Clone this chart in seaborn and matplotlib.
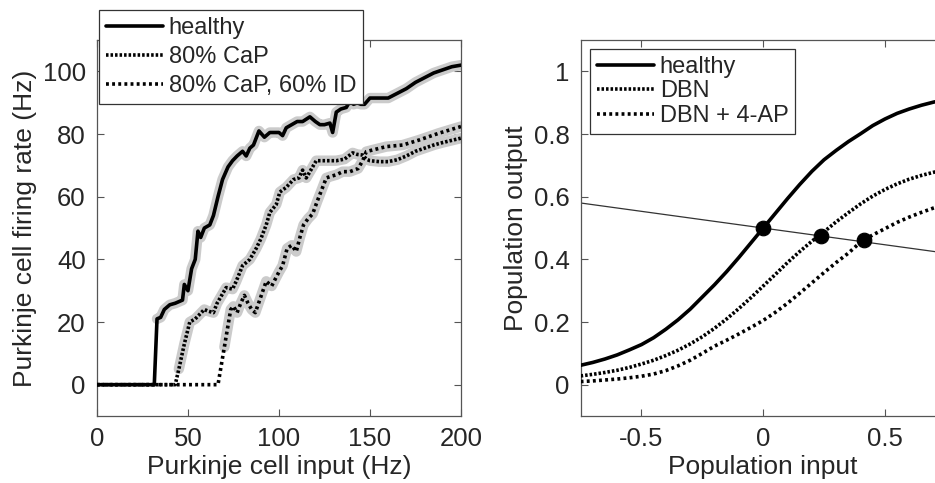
import numpy as np
import pandas as pd
import matplotlib
matplotlib.use("Agg")
import matplotlib.pyplot as plt
from matplotlib.lines import Line2D
import seaborn as sns

# ---------------- data: left panel (Purkinje cell) ----------------
healthy_x = [0, 31.5, 33, 35, 37, 40, 43, 45, 47, 48, 50, 52, 54, 55.5, 57, 59, 62, 64, 66.5, 69,
             72, 74.5, 77, 80, 82, 84, 86, 89, 92, 95, 97, 100, 102, 104, 107, 110, 113, 117, 120, 122.5,
             125, 128, 129.5, 131.5, 134, 137, 139, 141, 143, 145, 147, 150, 155, 160, 165, 170, 175, 180,
             185, 190, 195, 200]
healthy_y = [0, 0, 21, 21.5, 24, 25.5, 26, 26.5, 27, 32, 30, 37, 40, 49, 47, 50, 51, 54, 60, 65.5,
             69.5, 71.5, 73, 74.5, 73, 75.5, 76.5, 81, 79, 80.5, 80.5, 80.5, 79.5, 82, 83, 84, 84, 85.5, 84, 83,
             83, 83.5, 80.5, 87, 88, 88.5, 90.5, 89.5, 90, 89.5, 89.5, 91.5, 91.5, 91.5, 93, 94.5, 96.5, 98,
             99.5, 100.5, 101.5, 102]

cap_x = [0, 43, 45, 48, 51, 54, 56.5, 59, 61, 64, 66, 68.5, 71, 74.5, 76.5, 80, 84, 87.5, 90, 93,
         95, 98.5, 100.5, 104, 108, 111, 113, 115, 118, 120.5, 124, 128, 131.5, 136, 140.5, 143, 146, 148,
         150, 155, 160, 165, 170, 175, 180, 185, 190, 195, 200]
cap_y = [0, 0, 5, 13, 20, 21, 22.5, 24, 23.5, 23, 26, 28.5, 31, 30.5, 33, 38, 40, 43.5, 46.5, 51,
         55, 57.5, 61.5, 63, 65.5, 66, 68.5, 66, 69, 71.5, 71.5, 71.5, 71.5, 72, 74, 73.5, 73.3, 72,
         71.5, 71.2, 71.2, 71.8, 73, 74.5, 75.5, 76.5, 77.3, 78, 78.7]

id_x = [0, 66.5, 70, 73.5, 75, 77, 79, 81, 83, 85, 87, 90, 93, 96, 100, 102, 104.5, 107, 109.5, 111.5,
        113.5, 116, 118.5, 121, 124, 126, 128.5, 131.5, 135, 139, 143.5, 146, 148, 152, 159, 168, 177,
        188, 200]
id_y = [0, 0, 12, 24, 25, 23, 26, 28.5, 26, 24, 23, 28, 33, 31.5, 36, 38, 43.5, 44.5, 42.5, 47,
        51, 53, 54.5, 58.5, 63, 66, 66.5, 67, 68, 68, 69, 71.5, 74.4, 75, 76, 76.5, 78.1,
        80.3, 82.4]

left_labels = ["healthy", "80% CaP", "80% CaP, 60% ID"]
left_xticks = [0, 50, 100, 150, 200]
left_yticks = [0, 20, 40, 60, 80, 100]

# ---------------- data: right panel (population) ----------------
pop_x = [-0.75, -0.70, -0.65, -0.60, -0.55, -0.50, -0.45, -0.40, -0.35, -0.30, -0.25, -0.20, -0.15,
         -0.10, -0.05, 0.00, 0.05, 0.10, 0.15, 0.20, 0.25, 0.30, 0.35, 0.40, 0.45, 0.50, 0.55, 0.60,
         0.65, 0.70, 0.75]
pop_healthy = [0.062, 0.071, 0.082, 0.095, 0.111, 0.128, 0.150, 0.177, 0.207, 0.241, 0.280, 0.319, 0.361,
               0.406, 0.453, 0.500, 0.547, 0.594, 0.639, 0.681, 0.718, 0.748, 0.776, 0.801, 0.827, 0.848,
               0.866, 0.880, 0.892, 0.902, 0.910]
pop_dbn = [0.028, 0.033, 0.039, 0.046, 0.055, 0.066, 0.078, 0.093, 0.110, 0.130, 0.153, 0.180, 0.210,
           0.243, 0.278, 0.315, 0.352, 0.390, 0.425, 0.458, 0.488, 0.520, 0.549, 0.577, 0.602, 0.623,
           0.641, 0.656, 0.668, 0.678, 0.686]
pop_dbn_4ap = [0.010, 0.012, 0.015, 0.018, 0.022, 0.027, 0.034, 0.045, 0.060, 0.078, 0.100, 0.123, 0.142,
               0.162, 0.183, 0.205, 0.231, 0.260, 0.292, 0.325, 0.358, 0.390, 0.420, 0.455, 0.478, 0.498,
               0.518, 0.535, 0.550, 0.564, 0.576]
line_x = [-0.75, 0.75]
line_y = [0.58, 0.42]
fixed_x = [0.0, 0.236, 0.415]
fixed_y = [0.500, 0.476, 0.463]

right_labels = ["healthy", "DBN", "DBN + 4-AP"]
right_xticks = [-0.5, 0, 0.5]
right_xticklabels = ["-0.5", "0", "0.5"]
right_yticks = [0, 0.2, 0.4, 0.6, 0.8, 1.0]
right_yticklabels = ["0", "0.2", "0.4", "0.6", "0.8", "1"]

# ---------------- style ----------------
sns.set_style("white")
plt.rcParams["font.family"] = ["Liberation Sans", "DejaVu Sans"]
FS_TICK = 18.5
FS_LABEL = 19
FS_LEG = 17
FRAME = "#555555"

fine_dot = (0, (0.7, 0.55))
coarse_dot = (0, (0.8, 0.9))
LW = 2.6

fig = plt.figure(figsize=(9.35, 4.83), dpi=100)
ax1 = fig.add_axes([0.1037, 0.1387, 0.3893, 0.7783])
ax2 = fig.add_axes([0.621, 0.1387, 0.3905, 0.7783])


def band(ax, xs, ys):
    xs = np.asarray(xs, float)
    ys = np.asarray(ys, float)
    start = int(np.argmax(ys > 0)) - 1
    df = pd.DataFrame({"x": xs[start + 1:], "y": ys[start + 1:]})
    sns.lineplot(data=df, x="x", y="y", ax=ax, color="#cbcbcb", lw=7.5, sort=False,
                 estimator=None, solid_capstyle="round", zorder=1)


for xs, ys in [(healthy_x, healthy_y), (cap_x, cap_y), (id_x, id_y)]:
    band(ax1, xs, ys)

sns.lineplot(x=cap_x, y=cap_y, ax=ax1, color="black", lw=LW, linestyle=fine_dot,
             sort=False, estimator=None, zorder=3)
sns.lineplot(x=id_x, y=id_y, ax=ax1, color="black", lw=LW, linestyle=coarse_dot,
             sort=False, estimator=None, zorder=3)
sns.lineplot(x=healthy_x, y=healthy_y, ax=ax1, color="black", lw=LW, sort=False,
             estimator=None, zorder=4)

ax1.set_xlim(0, 200)
ax1.set_ylim(-10, 110)
ax1.set_xticks(left_xticks)
ax1.set_yticks(left_yticks)
ax1.set_xlabel("Purkinje cell input (Hz)", fontsize=FS_LABEL, labelpad=3)
ax1.set_ylabel("Purkinje cell firing rate (Hz)", fontsize=FS_LABEL, labelpad=4)

# right panel
sns.lineplot(x=line_x, y=line_y, ax=ax2, color="#333333", lw=0.9, zorder=2)
sns.lineplot(x=pop_x, y=pop_dbn_4ap, ax=ax2, color="black", lw=LW, linestyle=coarse_dot, zorder=3)
sns.lineplot(x=pop_x, y=pop_dbn, ax=ax2, color="black", lw=LW, linestyle=fine_dot, zorder=3)
sns.lineplot(x=pop_x, y=pop_healthy, ax=ax2, color="black", lw=LW, zorder=4)
sns.scatterplot(x=fixed_x, y=fixed_y, ax=ax2, color="black", s=110, edgecolor="black",
                zorder=5, legend=False)

ax2.set_xlim(-0.75, 0.75)
ax2.set_ylim(-0.1, 1.1)
ax2.set_xticks(right_xticks)
ax2.set_xticklabels(right_xticklabels)
ax2.set_yticks(right_yticks)
ax2.set_yticklabels(right_yticklabels)
ax2.set_xlabel("Population input", fontsize=FS_LABEL, labelpad=3)
ax2.set_ylabel("Population output", fontsize=FS_LABEL, labelpad=4)

for ax in (ax1, ax2):
    for sp in ax.spines.values():
        sp.set_visible(True)
        sp.set_color(FRAME)
        sp.set_linewidth(0.9)
    ax.tick_params(direction="in", length=5, width=0.8, color=FRAME, labelsize=FS_TICK,
                   top=True, right=True, bottom=True, left=True, pad=8)


def make_handles():
    return [Line2D([], [], color="black", lw=LW),
            Line2D([], [], color="black", lw=LW, linestyle=fine_dot),
            Line2D([], [], color="black", lw=LW, linestyle=coarse_dot)]


leg1 = ax1.legend(make_handles(), left_labels, loc="upper left",
                  bbox_to_anchor=(99 / 935, 1 - 10 / 483), bbox_transform=fig.transFigure,
                  borderaxespad=0, fontsize=FS_LEG, frameon=True, fancybox=False,
                  edgecolor="#333333", framealpha=1, handlelength=2.4, handletextpad=0.25,
                  labelspacing=0.3, borderpad=0.3)
leg1.get_frame().set_linewidth(0.9)
leg1.set_zorder(10)

leg2 = ax2.legend(make_handles(), right_labels, loc="upper left",
                  bbox_to_anchor=(590 / 935, 1 - 49 / 483), bbox_transform=fig.transFigure,
                  borderaxespad=0, fontsize=FS_LEG, frameon=True, fancybox=False,
                  edgecolor="#333333", framealpha=1, handlelength=2.4, handletextpad=0.25,
                  labelspacing=0.1, borderpad=0.3)
leg2.get_frame().set_linewidth(0.9)

fig.savefig("out.png", dpi=100)
